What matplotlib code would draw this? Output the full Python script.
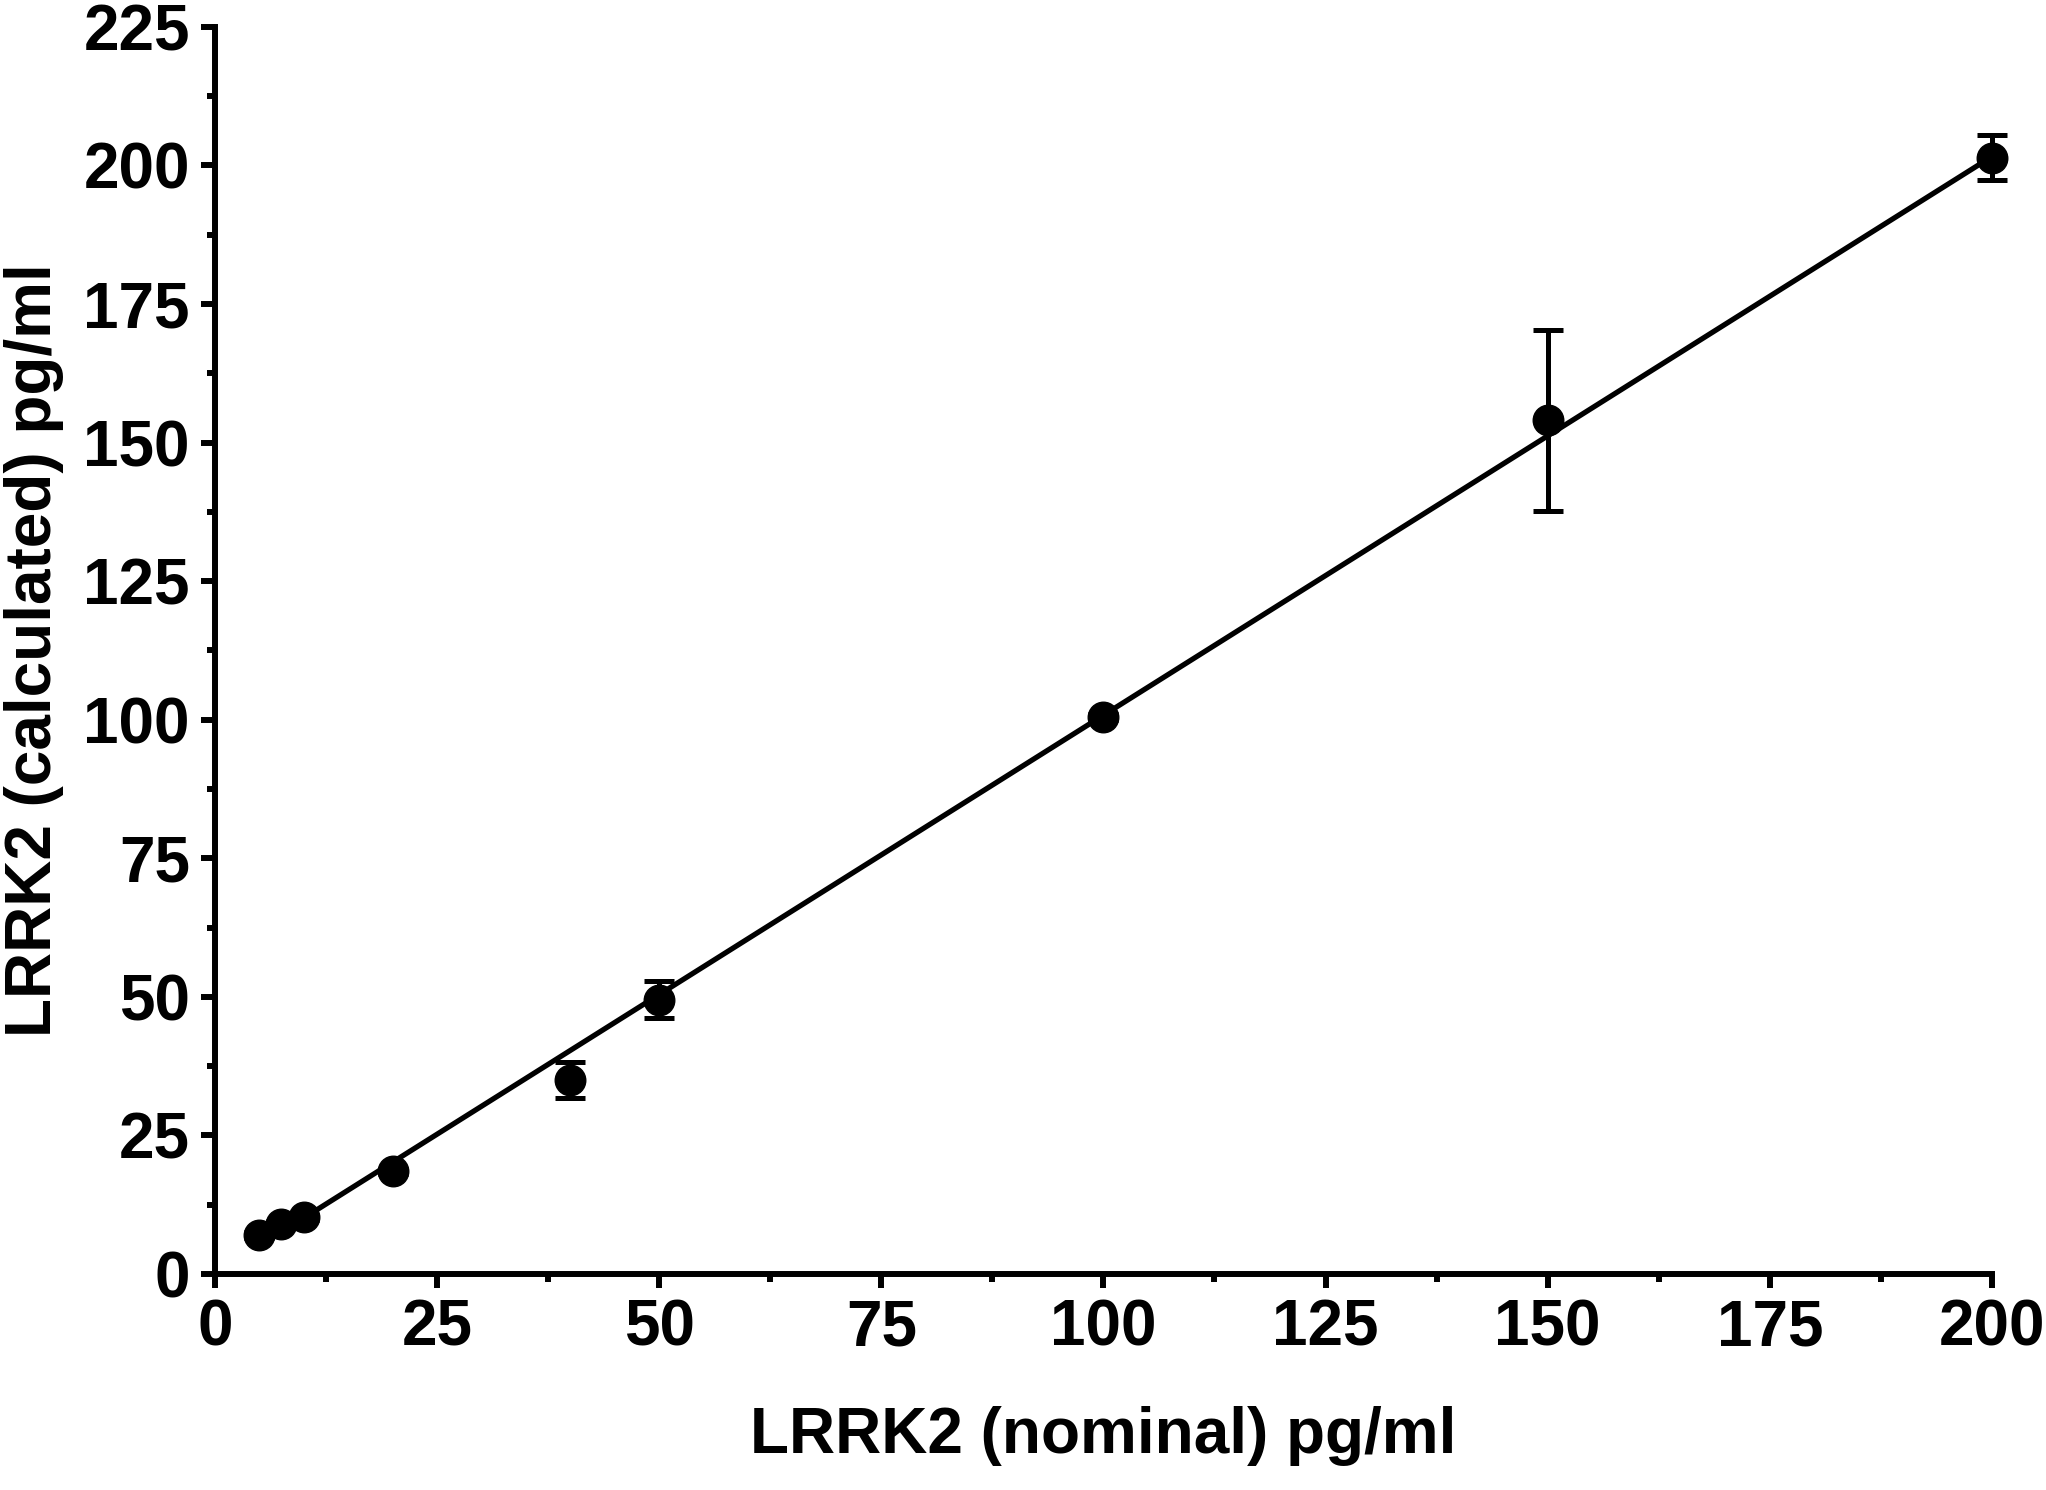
import matplotlib
matplotlib.use("Agg")
import matplotlib.pyplot as plt
import numpy as np
from matplotlib.ticker import MultipleLocator

nominal = [5, 7.5, 10, 20, 40, 50, 100, 150, 200]
calculated = [7.0, 9.0, 10.2, 18.5, 35.0, 49.5, 100.5, 154.0, 201.4]
errors = [0.5, 0.5, 0.5, 0.5, 3.2, 3.3, 0.5, 16.3, 4.0]
fit_slope = 1.008
fit_intercept = 0.0
fit_range = [5, 200]

plt.rcParams['font.family'] = ['Liberation Sans', 'DejaVu Sans']
plt.rcParams['font.weight'] = 'bold'

fig = plt.figure(figsize=(20.46, 14.90), dpi=100)
ax = fig.add_axes([0.105, 0.145, 0.8686, 0.837])

xf = np.array(fit_range)
ax.plot(xf, fit_slope * xf + fit_intercept, color='black', lw=3.8, zorder=2)
ax.errorbar(nominal, calculated, yerr=errors, fmt='o', color='black',
            markersize=22, elinewidth=3.6, capsize=11, capthick=3.6,
            zorder=3, clip_on=False)

ax.set_xlim(0, 200)
ax.set_ylim(0, 225)
ax.xaxis.set_major_locator(MultipleLocator(25))
ax.xaxis.set_minor_locator(MultipleLocator(12.5))
ax.yaxis.set_major_locator(MultipleLocator(25))
ax.yaxis.set_minor_locator(MultipleLocator(12.5))

for s in ['top', 'right']:
    ax.spines[s].set_visible(False)
for s in ['left', 'bottom']:
    ax.spines[s].set_linewidth(4.3)

ax.tick_params(which='major', length=10, width=4.3, labelsize=46, pad=8)
ax.tick_params(which='minor', length=6, width=4.3)
for lab in ax.get_xticklabels() + ax.get_yticklabels():
    lab.set_fontweight('bold')

ax.set_xlabel('LRRK2 (nominal) pg/ml', fontsize=46, fontweight='bold', labelpad=34)
ax.set_ylabel('LRRK2 (calculated) pg/ml', fontsize=46, fontweight='bold', labelpad=14)

fig.savefig('out.png', dpi=100)
